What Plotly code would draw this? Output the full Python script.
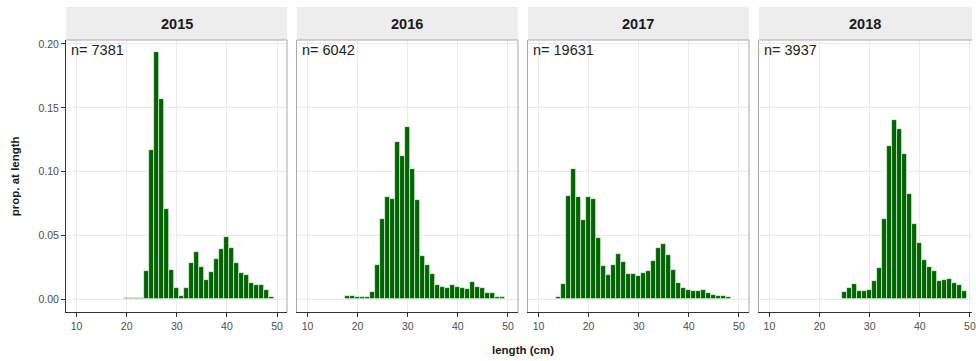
import plotly.graph_objects as go

# Length-frequency data (proportion at length, 1 cm bins) by survey year
years = ["2015", "2016", "2017", "2018"]
n_fish = [7381, 6042, 19631, 3937]

len_2015 = list(range(20, 50))
prop_2015 = [0.0012, 0.0012, 0.0012, 0.0012, 0.022, 0.117, 0.1935, 0.157, 0.0708, 0.0234,
             0.0086, 0.0026, 0.0091, 0.0286, 0.0372, 0.0255, 0.0156, 0.0214, 0.0318, 0.0396,
             0.0487, 0.0401, 0.0286, 0.0208, 0.0188, 0.013, 0.0115, 0.0115, 0.0076, 0.0023]

len_2016 = list(range(18, 50))
prop_2016 = [0.003, 0.003, 0.002, 0.002, 0.002, 0.0055, 0.027, 0.063, 0.080, 0.079,
             0.123, 0.112, 0.135, 0.102, 0.078, 0.034, 0.027, 0.020, 0.011, 0.010,
             0.0086, 0.0115, 0.010, 0.0091, 0.0083, 0.014, 0.010, 0.0086, 0.005, 0.005,
             0.0023, 0.0016]

len_2017 = list(range(14, 49))
prop_2017 = [0.0018, 0.0125, 0.081, 0.102, 0.080, 0.062, 0.080, 0.0786, 0.0484, 0.026,
             0.0188, 0.027, 0.0354, 0.0294, 0.0198, 0.0198, 0.0182, 0.0208, 0.022, 0.030,
             0.040, 0.0435, 0.035, 0.0234, 0.013, 0.0089, 0.0078, 0.0065, 0.0065, 0.0073,
             0.0047, 0.0034, 0.0026, 0.0026, 0.0018]

len_2018 = list(range(25, 50))
prop_2018 = [0.0057, 0.0091, 0.0122, 0.0065, 0.0065, 0.0073, 0.0148, 0.0247, 0.063, 0.120,
             0.1406, 0.1336, 0.114, 0.0826, 0.059, 0.0443, 0.0307, 0.0255, 0.022, 0.0148,
             0.0156, 0.0164, 0.013, 0.0112, 0.007]

lengths = [len_2015, len_2016, len_2017, len_2018]
props = [prop_2015, prop_2016, prop_2017, prop_2018]

x_ticks = [10, 20, 30, 40, 50]
y_ticks = [0.0, 0.05, 0.10, 0.15, 0.20]

# ---- layout constants (pixels) ----
W, H = 976, 361
ML, MR, MT, MB = 66, 0, 40, 49
PW = W - ML - MR
PH = H - MT - MB
panel_px = [(66, 288), (298, 520), (530, 752), (762, 976)]
x_lo, x_hi = 7.9, 52.0
px_per_unit = (288 - 66) / (x_hi - x_lo)
y_range = [-0.0098, 0.2031]

FONT = "Liberation Sans, Arial, sans-serif"
GRID = "#EBEBEB"
BORDER = "#A9A9A9"
BAR = "#006400"
STRIP_H = 33

fig = go.Figure()
layout = dict(
    width=W, height=H,
    margin=dict(l=ML, r=MR, t=MT, b=MB, pad=0),
    paper_bgcolor="white", plot_bgcolor="white",
    showlegend=False, bargap=0,
    font=dict(family=FONT, color="#4D4D4D"),
)
shapes, annotations = [], []

for i, (yr, n, xs, ys) in enumerate(zip(years, n_fish, lengths, props), start=1):
    sfx = "" if i == 1 else str(i)
    p0, p1 = panel_px[i - 1]
    dom = [(p0 - ML) / PW, (p1 - ML) / PW]
    xr = [x_lo, x_lo + (p1 - p0) / px_per_unit]

    fig.add_trace(go.Bar(
        x=xs, y=ys, width=1,
        marker=dict(color=BAR, line=dict(color="rgba(255,255,255,0.85)", width=0.7)),
        xaxis="x" + sfx, yaxis="y" + sfx,
    ))

    layout["xaxis" + sfx] = dict(
        domain=dom, range=xr, anchor="y" + sfx,
        tickmode="array", tickvals=x_ticks, ticktext=[str(v) for v in x_ticks],
        ticks="outside", ticklen=4, tickcolor="#333333", tickwidth=1,
        showline=True, linecolor="#333333", linewidth=1,
        showgrid=True, gridcolor=GRID, gridwidth=1, zeroline=False,
        tickfont=dict(family=FONT, size=10.5, color="#4D4D4D"),
        ticklabeloverflow="allow", fixedrange=True,
    )
    ydict = dict(
        domain=[0, 1], range=y_range, anchor="x" + sfx,
        tickmode="array", tickvals=y_ticks,
        showgrid=True, gridcolor=GRID, gridwidth=1, zeroline=False,
        fixedrange=True,
    )
    if i == 1:
        ydict.update(
            ticktext=["%.2f" % v for v in y_ticks],
            ticks="outside", ticklen=4, tickcolor="#333333", tickwidth=1,
            showline=True, linecolor="#333333", linewidth=1,
            tickfont=dict(family=FONT, size=10.5, color="#4D4D4D"),
        )
    else:
        ydict.update(matches="y", showticklabels=False, ticks="",
                     showline=True, linecolor=BORDER, linewidth=1)
    layout["yaxis" + sfx] = ydict

    # panel frame: top and right edges
    xd = "x%s domain" % sfx
    yd = "y%s domain" % sfx
    shapes.append(dict(type="line", xref=xd, yref=yd, x0=0, x1=1, y0=1, y1=1,
                       line=dict(color=BORDER, width=1), layer="above"))
    if i < 4:
        shapes.append(dict(type="line", xref=xd, yref=yd, x0=1, x1=1, y0=0, y1=1,
                           line=dict(color=BORDER, width=1), layer="above"))

    # facet strip
    shapes.append(dict(type="rect", xref=xd, yref="paper", x0=0, x1=1,
                       y0=1, y1=1 + STRIP_H / PH, fillcolor="#EDEDED",
                       line=dict(width=0), layer="below"))
    annotations.append(dict(
        text="<b>%s</b>" % yr, xref=xd, yref="paper", x=0.5, y=1 + (STRIP_H / 2) / PH,
        xanchor="center", yanchor="middle", showarrow=False,
        font=dict(family=FONT, size=14.5, color="#1A1A1A"),
    ))
    # sample size label
    annotations.append(dict(
        text="n= %d" % n, xref=xd, yref=yd, x=0, y=1, xshift=3, yshift=0,
        xanchor="left", yanchor="top", showarrow=False,
        font=dict(family=FONT, size=14.5, color="#222222"),
    ))

# axis titles
annotations.append(dict(
    text="<b>length (cm)</b>", xref="paper", yref="paper",
    x=(525 - ML) / PW, y=-(350 - (MT + PH)) / PH,
    xanchor="center", yanchor="middle", showarrow=False,
    font=dict(family=FONT, size=11.5, color="#1A1A1A"),
))
annotations.append(dict(
    text="<b>prop. at length</b>", xref="paper", yref="paper",
    x=(15 - ML) / PW, y=0.5, textangle=-90,
    xanchor="center", yanchor="middle", showarrow=False,
    font=dict(family=FONT, size=11.5, color="#1A1A1A"),
))

layout["shapes"] = shapes
layout["annotations"] = annotations
fig.update_layout(**layout)

fig.write_html("out.html", config={"displayModeBar": False})
